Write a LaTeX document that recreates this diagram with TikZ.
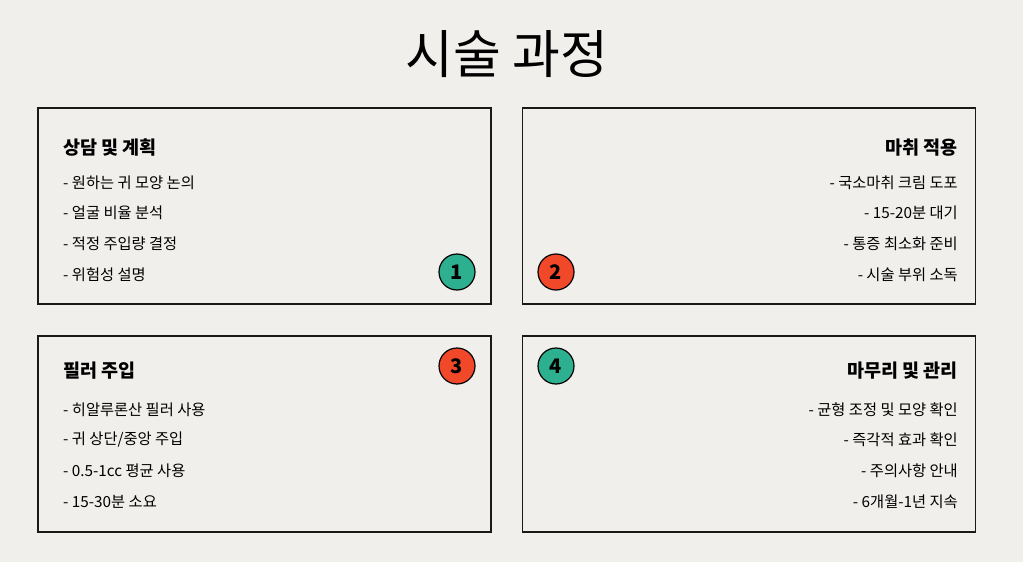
\documentclass[tikz,border=0pt]{standalone}
\usepackage{fontspec}
\setmainfont{Noto Sans CJK KR}
\usetikzlibrary{positioning}

\definecolor{paper}{HTML}{F0EFEC}
\definecolor{mint}{HTML}{2DB08F}
\definecolor{tomato}{HTML}{F04828}

\begin{document}
\begin{tikzpicture}[x=1pt, y=-1pt]
  \tikzstyle{panel} = [rectangle, minimum width=453pt, minimum height=196pt, draw=black!90, line width=1.6pt, inner sep=0pt]
  \tikzstyle{heading} = [font=\fontsize{18.5}{22}\selectfont\bfseries, inner sep=0pt]
  \tikzstyle{item} = [font=\fontsize{15.3}{18}\selectfont, inner sep=0pt]
  \tikzstyle{badge} = [circle, minimum size=36pt, inner sep=0pt, draw=black, line width=1.2pt, font=\fontsize{20}{22}\selectfont\bfseries]

  \fill [paper] (0,0) rectangle (1023,562);
  \useasboundingbox (0,0) rectangle (1023,562);

  \node (title) [font=\fontsize{52}{56}\selectfont] at (507,54) {시술 과정};

  % panels
  \node (plan) [panel] at (264.5,206) {};
  \node (numb) [panel] at (749,206) {};
  \node (fill) [panel] at (264.5,434) {};
  \node (care) [panel] at (749,434) {};

  % step 1
  \node (planh) [heading, anchor=west] at (63,148) {상담 및 계획};
  \node (plana) [item, anchor=west] at (63,183) {- 원하는 귀 모양 논의};
  \node (planb) [item, anchor=west] at (63,213) {- 얼굴 비율 분석};
  \node (planc) [item, anchor=west] at (63,244) {- 적정 주입량 결정};
  \node (pland) [item, anchor=west] at (63,275) {- 위험성 설명};
  \node (one) [badge, fill=mint] at (457,272) {1};

  % step 2
  \node (numbh) [heading, anchor=east] at (958,148) {마취 적용};
  \node (numba) [item, anchor=east] at (958,183) {- 국소마취 크림 도포};
  \node (numbb) [item, anchor=east] at (958,213) {- 15-20분 대기};
  \node (numbc) [item, anchor=east] at (958,244) {- 통증 최소화 준비};
  \node (numbd) [item, anchor=east] at (958,275) {- 시술 부위 소독};
  \node (two) [badge, fill=tomato] at (556,272) {2};

  % step 3
  \node (fillh) [heading, anchor=west] at (63,371) {필러 주입};
  \node (filla) [item, anchor=west] at (63,410) {- 히알루론산 필러 사용};
  \node (fillb) [item, anchor=west] at (63,440) {- 귀 상단/중앙 주입};
  \node (fillc) [item, anchor=west] at (63,471) {- 0.5-1cc 평균 사용};
  \node (filld) [item, anchor=west] at (63,502) {- 15-30분 소요};
  \node (three) [badge, fill=tomato] at (457,366) {3};

  % step 4
  \node (careh) [heading, anchor=east] at (958,371) {마무리 및 관리};
  \node (carea) [item, anchor=east] at (958,410) {- 균형 조정 및 모양 확인};
  \node (careb) [item, anchor=east] at (958,440) {- 즉각적 효과 확인};
  \node (carec) [item, anchor=east] at (958,471) {- 주의사항 안내};
  \node (cared) [item, anchor=east] at (958,502) {- 6개월-1년 지속};
  \node (four) [badge, fill=mint] at (556,366) {4};

\end{tikzpicture}
\end{document}
